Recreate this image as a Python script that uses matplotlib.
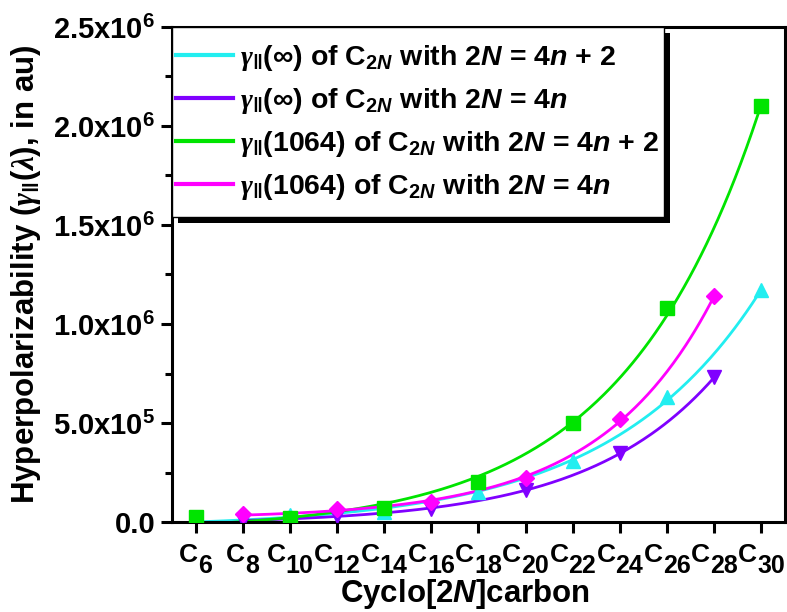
import numpy as np
import matplotlib
matplotlib.use('Agg')
import matplotlib.pyplot as plt
from matplotlib.ticker import MultipleLocator, FuncFormatter
from matplotlib.patches import Rectangle
from matplotlib.transforms import IdentityTransform

plt.rcParams['font.family'] = ['Liberation Sans', 'DejaVu Sans']
plt.rcParams['font.weight'] = 'bold'
plt.rcParams['mathtext.fontset'] = 'custom'
plt.rcParams['mathtext.rm'] = 'Liberation Sans:bold'
plt.rcParams['mathtext.it'] = 'Liberation Sans:italic:bold'
plt.rcParams['mathtext.bf'] = 'Liberation Sans:bold'
plt.rcParams['mathtext.cal'] = 'Liberation Serif:italic:bold'

# ring size 2N
n_4n2 = [6, 10, 14, 18, 22, 26, 30]
n_4n = [8, 12, 16, 20, 24, 28]

# gamma_par in au
gam_inf_4n2 = [0.01e6, 0.035e6, 0.05e6, 0.15e6, 0.31e6, 0.63e6, 1.17e6]
gam_inf_4n = [0.01e6, 0.03e6, 0.065e6, 0.16e6, 0.35e6, 0.73e6]
gam_1064_4n2 = [0.025e6, 0.02e6, 0.07e6, 0.20e6, 0.50e6, 1.08e6, 2.10e6]
gam_1064_4n = [0.04e6, 0.065e6, 0.10e6, 0.22e6, 0.52e6, 1.14e6]

G = r'$\mathcal{\gamma}_{\|}$'
labels = [G + r'(∞) of C$_{2N}$ with 2$N$ = 4$n$ + 2',
          G + r'(∞) of C$_{2N}$ with 2$N$ = 4$n$',
          G + r'(1064) of C$_{2N}$ with 2$N$ = 4$n$ + 2',
          G + r'(1064) of C$_{2N}$ with 2$N$ = 4$n$']


def expfit(x, y):
    # y = a + b*exp((x-x0)/t), scan t and solve a, b by least squares
    x = np.asarray(x, float)
    y = np.asarray(y, float)
    best = None
    for t in np.linspace(1.5, 15, 541):
        A = np.column_stack([np.ones_like(x), np.exp((x - x[0]) / t)])
        coef = np.linalg.lstsq(A, y, rcond=None)[0]
        err = np.sum((A @ coef - y) ** 2)
        if best is None or err < best[0]:
            best = (err, t, coef)
    _, t, coef = best
    xs = np.linspace(x[0], x[-1], 300)
    return xs, coef[0] + coef[1] * np.exp((xs - x[0]) / t)


fig = plt.figure(figsize=(7.87, 6.12), dpi=100)
ax = fig.add_axes([0.2185, 0.147, 0.779, 0.809])

series = [(n_4n2, gam_inf_4n2, '#22EEF0', '^'),
          (n_4n, gam_inf_4n, '#8000FF', 'v'),
          (n_4n2, gam_1064_4n2, '#00E400', 's'),
          (n_4n, gam_1064_4n, '#FF00FF', 'D')]

for (x, y, c, m), lab in zip(series, labels):
    xs, ys = expfit(x, y)
    ax.plot(xs, ys, color=c, lw=2.0, label=lab, zorder=2)
    ax.plot(x, y, ls='none', marker=m, color=c, ms=9.5 if m != 'D' else 8.5, zorder=3)

ax.set_xlim(5, 31)
ax.set_ylim(0, 2.5e6)
ring = list(range(6, 31, 2))
ax.set_xticks(ring)
ax.set_xticklabels([])
ax.yaxis.set_major_locator(MultipleLocator(5e5))
ax.yaxis.set_minor_locator(MultipleLocator(2.5e5))


def yfmt(v, pos):
    if v <= 0:
        return '0.0'
    e = int(np.floor(np.log10(v)))
    return '%.1fx10$^{%d}$' % (v / 10 ** e, e)


ax.yaxis.set_major_formatter(FuncFormatter(yfmt))

for s in ax.spines.values():
    s.set_linewidth(2.2)
ax.tick_params(which='major', direction='out', length=8, width=2.2, labelsize=21, pad=4)
ax.tick_params(which='minor', direction='out', length=5, width=2.2)

# x tick labels: "C" with a full-height, lowered ring-size index
wC, wD = 19.0, 13.9
for k in ring:
    nd = len(str(k))
    dx = (wC - nd * wD) / 2
    ax.annotate('C', xy=(k, 0), xycoords=('data', 'axes fraction'),
                xytext=(dx, -40), textcoords='offset pixels', ha='right',
                va='baseline', fontsize=19, fontweight='bold', annotation_clip=False)
    ax.annotate(str(k), xy=(k, 0), xycoords=('data', 'axes fraction'),
                xytext=(dx, -51), textcoords='offset pixels', ha='left',
                va='baseline', fontsize=18, fontweight='bold', annotation_clip=False)

ax.set_xlabel('Cyclo[2$N$]carbon', fontsize=22.5, fontweight='bold', va='top')
ax.xaxis.set_label_coords(0.478, -0.111)
ax.set_ylabel(r'Hyperpolarizability ($\mathcal{\gamma}_{\|}(\mathcal{\lambda})$, in au)',
              fontsize=22.5, fontweight='bold')
ax.yaxis.set_label_coords(-0.21, 0.5)

leg = ax.legend(loc='upper left', bbox_to_anchor=(0, 1 - 12 / 495), borderaxespad=0,
                frameon=False, fontsize=20.5, handlelength=2.0, handletextpad=0.25,
                labelspacing=0.45, borderpad=0.15)
for h in leg.get_lines():
    h.set_linewidth(3)

# legend frame with extra room above and below, plus a solid drop shadow
fig.canvas.draw()
bb = leg.get_window_extent()
x0, y0, w, h = bb.x0, bb.y0 - 11, bb.width, bb.height + 23
ax.add_patch(Rectangle((x0 + 6, y0 - 6), w, h, transform=IdentityTransform(),
                       facecolor='k', edgecolor='none', zorder=4.5, clip_on=False))
ax.add_patch(Rectangle((x0, y0), w, h, transform=IdentityTransform(),
                       facecolor='white', edgecolor='k', lw=1.0, zorder=4.8,
                       clip_on=False))

fig.savefig('out.png', dpi=100)
